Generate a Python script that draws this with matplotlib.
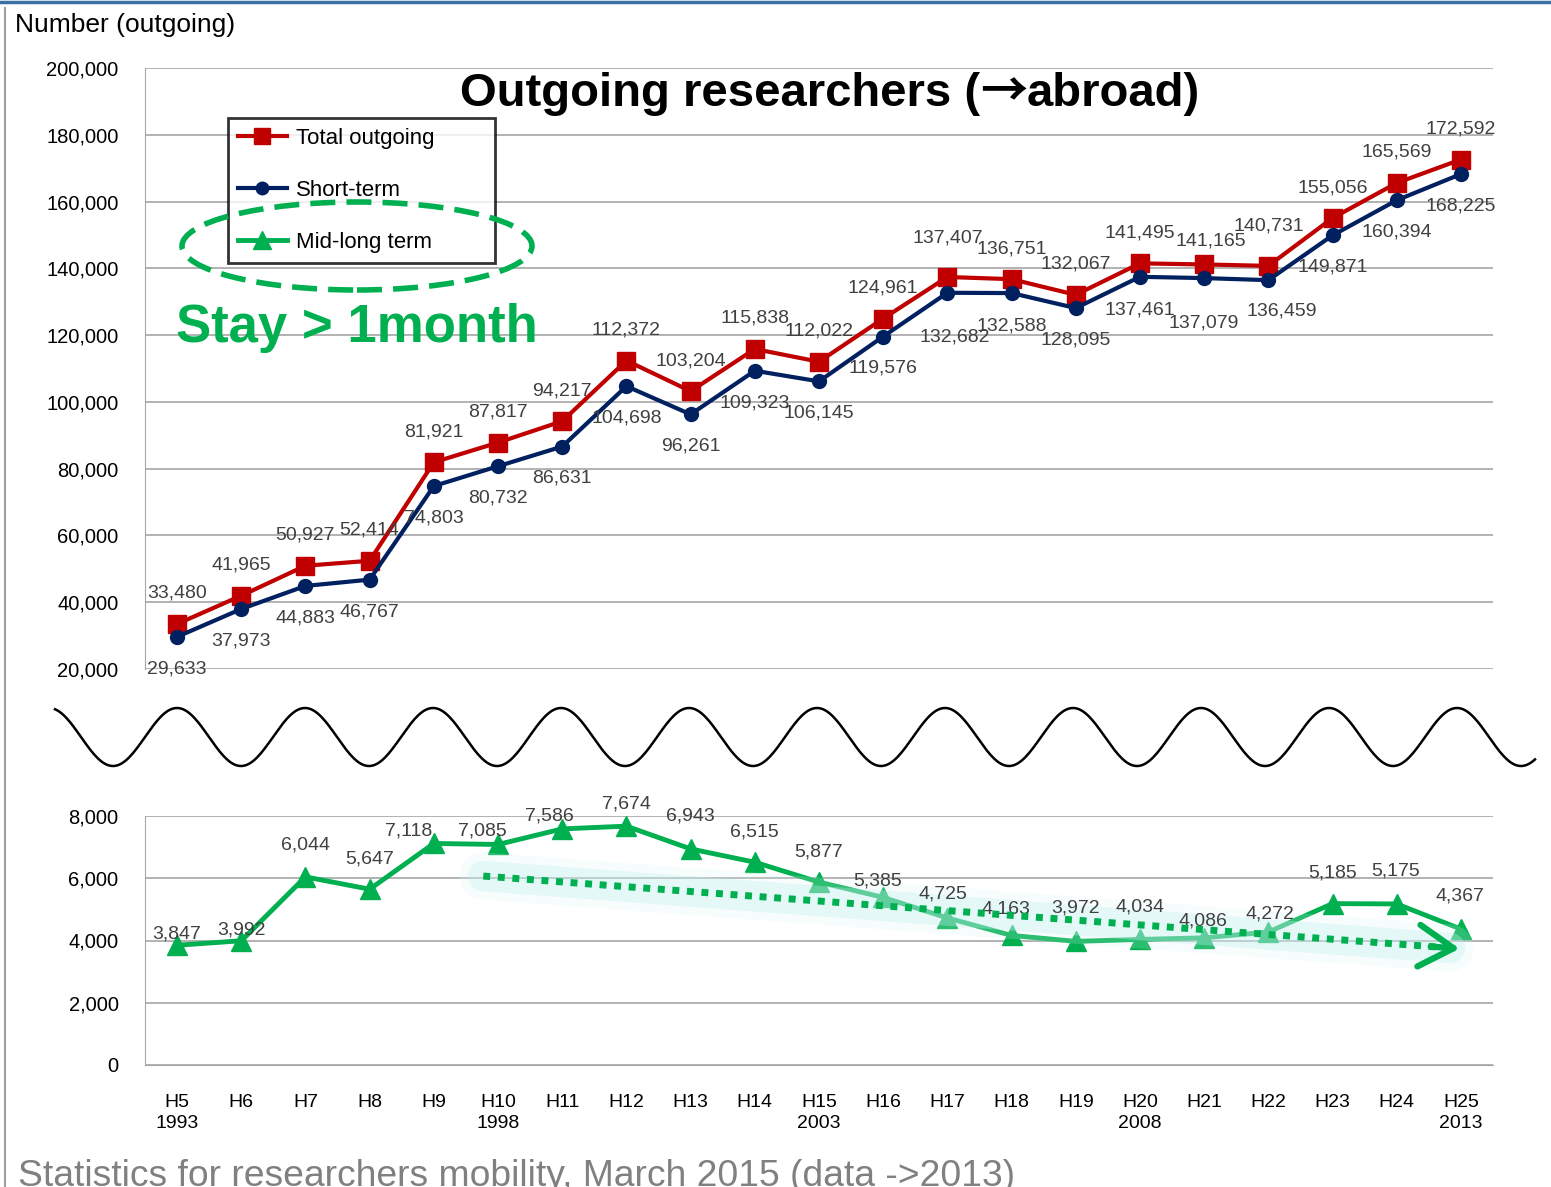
import numpy as np
import matplotlib
matplotlib.use("Agg")
import matplotlib.pyplot as plt
from matplotlib.lines import Line2D
from matplotlib.patches import Ellipse

# datos
heisei = ["H5", "H6", "H7", "H8", "H9", "H10", "H11", "H12", "H13", "H14", "H15",
          "H16", "H17", "H18", "H19", "H20", "H21", "H22", "H23", "H24", "H25"]
years = {0: "1993", 5: "1998", 10: "2003", 15: "2008", 20: "2013"}

total = [33480, 41965, 50927, 52414, 81921, 87817, 94217, 112372, 103204, 115838, 112022,
         124961, 137407, 136751, 132067, 141495, 141165, 140731, 155056, 165569, 172592]
short_term = [29633, 37973, 44883, 46767, 74803, 80732, 86631, 104698, 96261, 109323, 106145,
              119576, 132682, 132588, 128095, 137461, 137079, 136459, 149871, 160394, 168225]
mid_long = [3847, 3992, 6044, 5647, 7118, 7085, 7586, 7674, 6943, 6515, 5877,
            5385, 4725, 4163, 3972, 4034, 4086, 4272, 5185, 5175, 4367]

# tendencia (flecha punteada)
trend_x = [4.77, 19.83]
trend_y = [6070, 3760]

RED = "#C00000"
NAVY = "#002060"
GREEN = "#00B050"
GRID = "#A6A6A6"
LABEL = "#404040"

base = ["Liberation Sans", "DejaVu Sans"]
plt.rcParams["font.family"] = base

W, H = 1551, 1187
fig = plt.figure(figsize=(W / 100, H / 100), dpi=100)


def fx(px):
    return px / W


def fy(py):
    return 1 - py / H


x = np.arange(len(heisei))

# ---- panel superior ----
ax1 = fig.add_axes([fx(145), fy(669), fx(1493) - fx(145), fy(68) - fy(669)])
ax1.plot(x, total, color=RED, lw=3, marker="s", ms=13, label="Total outgoing", zorder=4)
ax1.plot(x, short_term, color=NAVY, lw=3, marker="o", ms=10, label="Short-term", zorder=4)
ax1.set_xlim(-0.5, len(x) - 0.5)
ax1.set_ylim(20000, 200000)
ax1.set_yticks(range(20000, 200001, 20000))
ax1.set_yticklabels([f"{v:,}" for v in range(20000, 200001, 20000)], fontsize=14.5)
ax1.set_xticks([])
ax1.grid(axis="y", color=GRID, lw=1.2)
ax1.set_axisbelow(True)
for s in ["top", "right", "bottom"]:
    ax1.spines[s].set_visible(False)
ax1.spines["left"].set_color(GRID)
ax1.tick_params(axis="y", length=0, pad=19)

# desplazamientos de etiquetas (pt)
off_total = {12: (0, 28), 13: (0, 22), 15: (0, 22), 16: (5, 17), 17: (0, 29)}
off_short = {12: (5, -32), 13: (0, -24), 15: (0, -24), 16: (0, -32), 17: (10, -22)}
for i in x:
    ax1.annotate(f"{total[i]:,}", (i, total[i]), xytext=off_total.get(i, (0, 22)),
                 textcoords="offset points", ha="center", va="center",
                 fontsize=14, color=LABEL, zorder=5)
    ax1.annotate(f"{short_term[i]:,}", (i, short_term[i]), xytext=off_short.get(i, (0, -23)),
                 textcoords="offset points", ha="center", va="center",
                 fontsize=14, color=LABEL, zorder=5)

# ---- panel inferior ----
ax2 = fig.add_axes([fx(145), fy(1065), fx(1493) - fx(145), fy(816) - fy(1065)])
ax2.plot(x, mid_long, color=GREEN, lw=3.5, marker="^", ms=15, label="Mid-long term", zorder=4)
ax2.set_xlim(-0.5, len(x) - 0.5)
ax2.set_ylim(0, 8000)
ax2.set_yticks(range(0, 8001, 2000))
ax2.set_yticklabels([f"{v:,}" for v in range(0, 8001, 2000)], fontsize=14.5)
ax2.set_xticks(x)
ax2.set_xticklabels([h + ("\n" + years[i] if i in years else "") for i, h in enumerate(heisei)],
                    fontsize=14, linespacing=1.3, va="top")
ax2.grid(axis="y", color=GRID, lw=1.2)
ax2.set_axisbelow(True)
for s in ["top", "right"]:
    ax2.spines[s].set_visible(False)
ax2.spines["left"].set_color(GRID)
ax2.spines["bottom"].set_color(GRID)
ax2.tick_params(axis="y", length=0, pad=19)
ax2.tick_params(axis="x", length=0, pad=21)

ml_offsets = [(0, 8), (0, 8), (0, 23), (0, 22), (-18, 9), (-11, 10), (-9, 9), (0, 16),
              (0, 24), (0, 22), (0, 22), (-4, 12), (-3, 17), (-4, 19), (0, 24), (0, 23),
              (-1, 12), (1, 13), (0, 22), (-1, 24), (-1, 24)]
for i in x:
    ax2.annotate(f"{mid_long[i]:,}", (i, mid_long[i]), xytext=ml_offsets[i],
                 textcoords="offset points", ha="center", va="center",
                 fontsize=14, color=LABEL, zorder=6)

# brillo + flecha de tendencia
ax2.plot(trend_x, trend_y, color="#BFEFF0", lw=22, alpha=0.35, solid_capstyle="round", zorder=5)
ax2.plot(trend_x, trend_y, color="#D9F5F5", lw=34, alpha=0.2, solid_capstyle="round", zorder=5)
ax2.plot(trend_x, trend_y, color=GREEN, lw=5, linestyle=(0, (1, 1.1)), zorder=6)
dx = trend_x[1] - trend_x[0]
dy = trend_y[1] - trend_y[0]
ax2.annotate("", xy=(trend_x[1] + 0.15, trend_y[1] + 0.15 * dy / dx),
             xytext=(trend_x[1] - 0.3, trend_y[1] - 0.3 * dy / dx),
             arrowprops=dict(arrowstyle="->,head_length=1.25,head_width=0.75", color=GREEN,
                             lw=4.5, shrinkA=0, shrinkB=0, mutation_scale=20), zorder=7)

# ---- leyenda ----
handles = [Line2D([], [], color=RED, lw=3, marker="s", ms=12),
           Line2D([], [], color=NAVY, lw=3, marker="o", ms=9),
           Line2D([], [], color=GREEN, lw=3.5, marker="^", ms=13)]
leg = fig.legend(handles, ["Total outgoing", "Short-term", "Mid-long term"],
                 loc="upper left", mode="expand",
                 bbox_to_anchor=(fx(228), fy(265), fx(495) - fx(228), fy(118) - fy(265)),
                 bbox_transform=fig.transFigure,
                 frameon=True, fancybox=False, edgecolor="black", fontsize=16,
                 labelspacing=1.4, handlelength=2.2, handletextpad=0.4,
                 borderpad=0.45, borderaxespad=0)
leg.get_frame().set_linewidth(2)
leg.set_zorder(8)

fig.add_artist(Ellipse((fx(357), fy(246)), fx(350), 88 / H, transform=fig.transFigure,
                       fill=False, edgecolor=GREEN, lw=4, linestyle=(0, (4.5, 2)), zorder=9))

fig.text(fx(176), fy(342), "Stay > 1month", color=GREEN, fontsize=38, fontweight="bold",
         ha="left", va="baseline")

# titulo en tres trozos para usar una flecha ancha
renderer = fig.canvas.get_renderer()
parts = [("Outgoing researchers (", base), ("\u2192", ["Noto Sans CJK JP", "DejaVu Sans"]),
         ("abroad)", base)]
pieces = [fig.text(0, fy(106), s, fontsize=34, fontweight="bold", family=fam,
                   ha="left", va="baseline") for s, fam in parts]
widths = [p.get_window_extent(renderer).width for p in pieces]
cur = 830 - sum(widths) / 2
for p, w in zip(pieces, widths):
    p.set_x(fx(cur))
    cur += w

fig.text(fx(15), fy(25), "Number (outgoing)", fontsize=19, ha="left", va="center")

# ---- onda de corte ----
wx = np.linspace(55, 1535, 800)
wy = 737 - 29 * np.cos(2 * np.pi * (wx - 49) / 128)
fig.add_artist(Line2D(fx(wx), fy(wy), transform=fig.transFigure, color="black", lw=1.8))

# ---- marco de la diapositiva y pie ----
fig.add_artist(Line2D([0, 1], [fy(1.5), fy(1.5)], transform=fig.transFigure, color="#3A6EA5", lw=2.5))
fig.add_artist(Line2D([fx(5), fx(5)], [fy(8), 0], transform=fig.transFigure, color="#A0A0A0", lw=1.5))

fig.text(fx(18), fy(1186), "Statistics for researchers mobility, March 2015 (data ->2013)",
         fontsize=26.8, color="#808080", ha="left", va="baseline")

fig.savefig("out.png", dpi=100)
